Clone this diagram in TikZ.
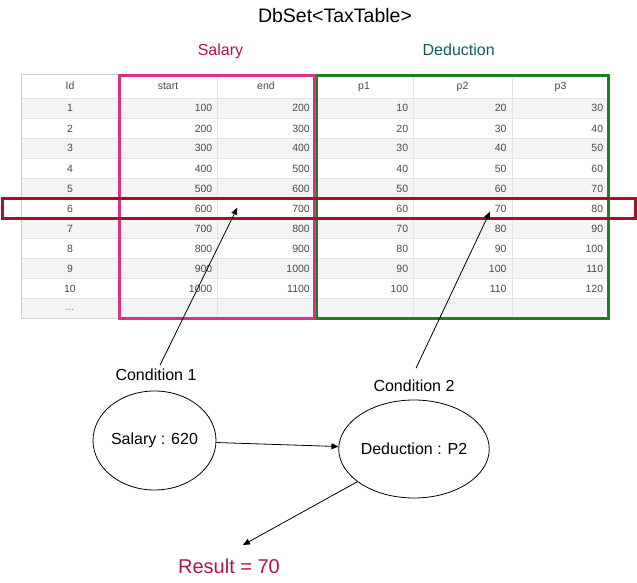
\documentclass[tikz,border=0pt]{standalone}
\usepackage{fontspec}
\setmainfont{Liberation Sans}
\usetikzlibrary{arrows.meta,shapes.geometric}
\definecolor{pinkbox}{HTML}{D6338A}
\definecolor{greenbox}{HTML}{1F7F22}
\definecolor{redbox}{HTML}{A3112E}
\definecolor{salcol}{HTML}{B0163C}
\definecolor{dedcol}{HTML}{125E5A}
\definecolor{gridcol}{HTML}{E3E5E5}
\definecolor{stripe}{HTML}{F3F5F5}
\definecolor{celltext}{HTML}{4A4A4A}
\definecolor{bordercol}{HTML}{D2D4D4}
\tikzset{
  cell/.style={font=\fontsize{10.5}{12}\selectfont, text=celltext, inner sep=0pt},
  lbl/.style={font=\fontsize{16}{19}\selectfont, inner sep=2pt},
  oval/.style={draw, ellipse, line width=0.8pt, inner sep=0pt, font=\fontsize{16}{19}\selectfont},
  conn/.style={draw, line width=0.8pt, -{Triangle[length=7pt,width=6pt]}},
}
\begin{document}
\begin{tikzpicture}[x=1pt,y=-1pt]
\useasboundingbox (0,0) rectangle (637,583);
% stripes
\fill[white] (21,75) rectangle (609,318);
\foreach \i in {1,3,5,7,9,11} {
  \fill[stripe] (21,{98+20*(\i-1)}) rectangle (609,{118+20*(\i-1)});
}
% grid
\foreach \yy in {98,118,...,298} { \draw[gridcol, line width=0.8pt] (21,\yy) -- (609,\yy); }
\foreach \xx in {119,217,315,413,512} { \draw[gridcol, line width=0.8pt] (\xx,75) -- (\xx,318); }
\draw[bordercol, line width=1pt] (21,75) rectangle (609,318);
% header
\foreach \xx/\t in {70/Id,168/start,266/end,364/p1,462.5/p2,560.5/p3} {
  \node[cell, anchor=base] (h\t) at (\xx,90) {\t};
}
% data
\foreach \i in {1,...,10} {
  \pgfmathtruncatemacro{\st}{100*\i}
  \pgfmathtruncatemacro{\en}{100*(\i+1)}
  \pgfmathtruncatemacro{\pa}{10*\i}
  \pgfmathtruncatemacro{\pb}{10*(\i+1)}
  \pgfmathtruncatemacro{\pc}{10*(\i+2)}
  \pgfmathsetmacro{\yb}{98+20*(\i-1)+14}
  \node[cell, anchor=base] (id\i) at (70,\yb) {\i};
  \node[cell, anchor=base east] (st\i) at (212.5,\yb) {\st};
  \node[cell, anchor=base east] (en\i) at (310,\yb) {\en};
  \node[cell, anchor=base east] (pa\i) at (408.3,\yb) {\pa};
  \node[cell, anchor=base east] (pb\i) at (506.7,\yb) {\pb};
  \node[cell, anchor=base east] (pc\i) at (603.3,\yb) {\pc};
}
\node[cell, anchor=base, text=gray] (dots) at (70,310) {...};
% boxes
\draw[greenbox, line width=3pt] (316.5,75.5) rectangle (608.5,318.5);
\draw[pinkbox, line width=3pt] (119,75.5) rectangle (314.5,318.5);
\draw[redbox, line width=3pt] (2,198) rectangle (635,218.5);
% titles
\node[font=\fontsize{19.5}{22}\selectfont, anchor=base, inner sep=0pt] (title) at (335,23) {DbSet<TaxTable>};
\node[lbl, anchor=base, text=salcol, inner sep=0pt] (sal) at (220.5,55.7) {Salary};
\node[lbl, anchor=base, text=dedcol, inner sep=0pt] (ded) at (458.7,55.7) {Deduction};
% lower part
\node[oval, minimum width=123pt, minimum height=99pt] (s) at (154.5,440.5) {Salary : 620};
\node[oval, minimum width=140pt, minimum height=98pt] (d) at (414,449) {Deduction : P2};
\node[lbl, anchor=base] (c1) at (156,380) {Condition 1};
\node[lbl, anchor=base] (c2) at (414,391) {Condition 2};
\node[font=\fontsize{20}{24}\selectfont, anchor=base, text=salcol, inner sep=0pt] (res) at (229,573) {Result = 70};
\coordinate (t1) at (237.3,207.7);
\coordinate (t2) at (490,211.7);
\coordinate (t3) at (243,545);
\draw[conn] ([xshift=4pt,yshift=1pt]c1.north) -- (t1);
\draw[conn] ([xshift=2pt,yshift=9pt]c2.north) -- (t2);
\draw[conn] (s) -- (d);
\draw[conn] (d.210) -- (t3);
\end{tikzpicture}
\end{document}
